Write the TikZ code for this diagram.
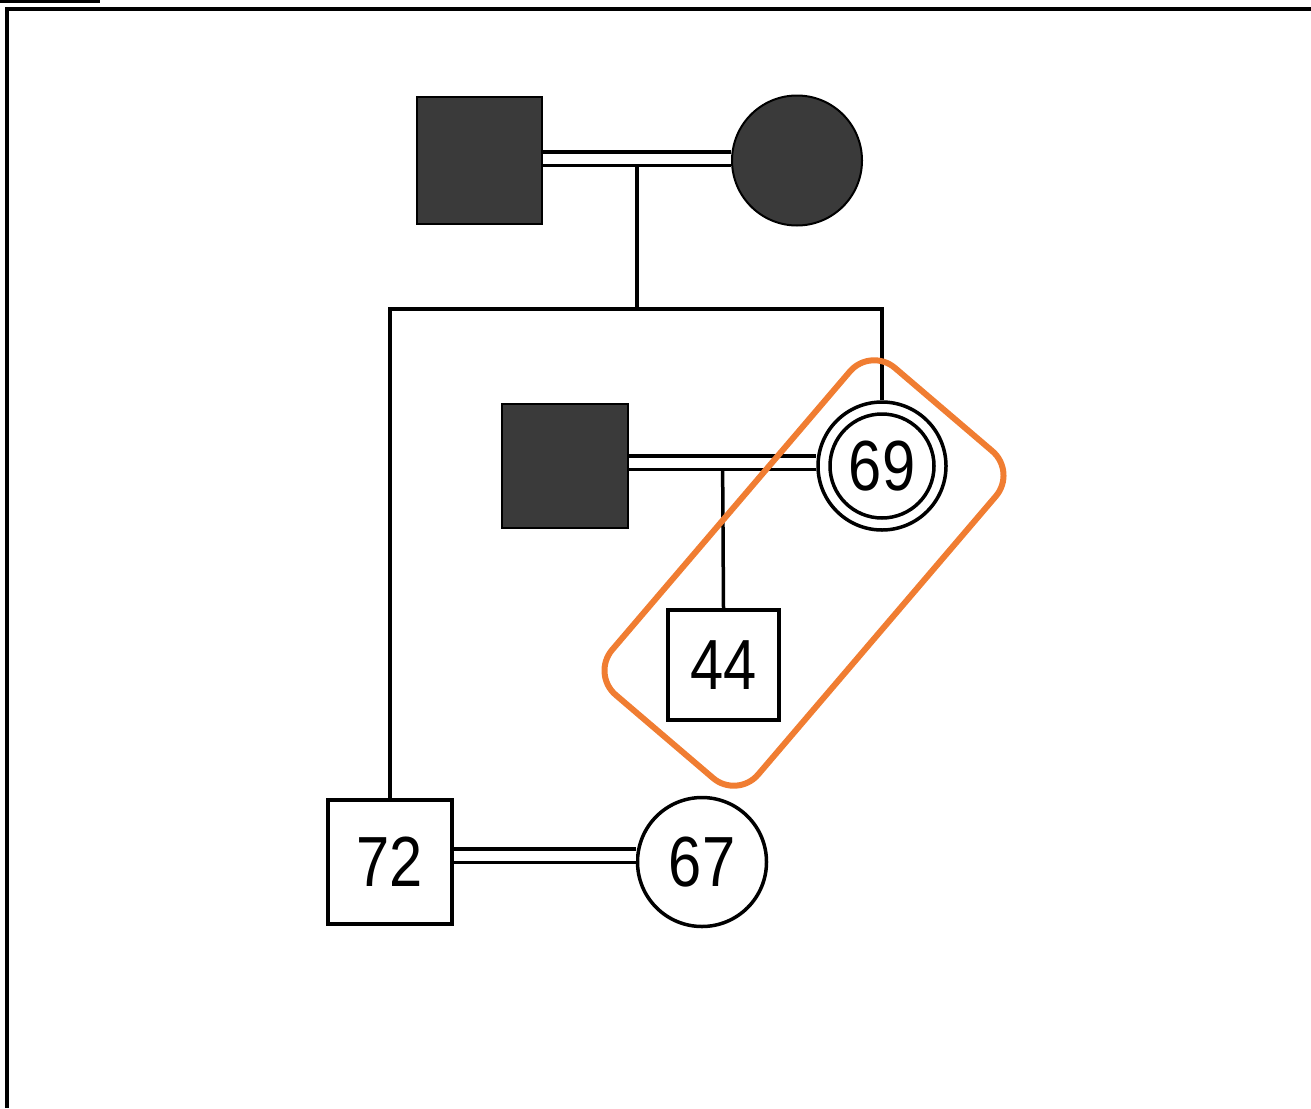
\documentclass[tikz,border=0pt]{standalone}
\usepackage{fontspec}
\setmainfont{Liberation Sans}
\definecolor{affected}{HTML}{3A3A3A}
\definecolor{mark}{HTML}{F07D32}
\begin{document}
\begin{tikzpicture}[x=1pt,y=-1pt,
  rel/.style={line width=3.5pt},
  marriage/.style={double, double distance=10pt, line width=3.5pt},
  malefill/.style={rectangle, draw, line width=2pt, fill=affected, minimum width=125pt, minimum height=127pt, inner sep=0pt},
  femalefill/.style={circle, draw, line width=2pt, fill=affected, minimum size=130pt, inner sep=0pt},
  male/.style={rectangle, draw, line width=3.5pt, fill=white, inner sep=0pt, font=\agefont},
  female/.style={circle, draw, line width=3.5pt, fill=white, minimum size=129pt, inner sep=0pt, font=\agefont},
  highlight/.style={draw=mark, line width=6pt, rounded corners=32pt, rotate=49.5, minimum width=430pt, minimum height=192pt}
]
\newcommand\agefont{\fontsize{71}{71}\selectfont}
\newcommand\age[1]{\scalebox{0.84}[1]{#1}}
\useasboundingbox (0,0) rectangle (1311,1108);

% page frame
\draw[line width=4pt] (0,1.5) -- (100,1.5);
\draw[line width=4.5pt] (7,1108) -- (7,9) -- (1311,9);

% grandparents
\node[malefill] (gf) at (479.5,160.5) {};
\node[femalefill] (gm) at (797,160.5) {};

% second generation
\node[male, minimum width=124pt, minimum height=124pt] (p72) at (390,862) {\age{72}};
\node[female] (p67) at (702,862) {\age{67}};
\node[malefill, minimum width=126pt, minimum height=124pt] (sp) at (565,466) {};
\node[circle, draw, line width=3.5pt, fill=white, minimum size=128pt, inner sep=0pt] (p69) at (882,466) {};
\node[circle, draw, line width=3.5pt, minimum size=104pt, inner sep=0pt, font=\agefont] (p69in) at (p69) {\age{69}};

% third generation
\node[male, minimum width=111pt, minimum height=110pt] (p44) at (723.5,665) {\age{44}};

% marriages
\draw[marriage] ([yshift=2pt]gf.east) -- ([yshift=2pt]gm.west) coordinate[pos=0.5] (m1);
\draw[marriage] ([yshift=3.5pt]sp.east) -- ([yshift=3.5pt]p69.west) coordinate[pos=0.5] (m2);
\draw[marriage] ([yshift=6.5pt]p72.east) -- ([yshift=6.5pt]p67.west);

% lines of descent
\coordinate (sib) at (637,309);
\draw[rel] ([yshift=-6.5pt]m1) -- (sib);
\draw[rel, line join=miter] (p72.north) |- (sib) -| (p69.north);
\draw[rel] ([yshift=-6.5pt]m2) -- (p44.north);

% highlighted pair
\node[highlight] (box) at (804,573) {};
\end{tikzpicture}
\end{document}
